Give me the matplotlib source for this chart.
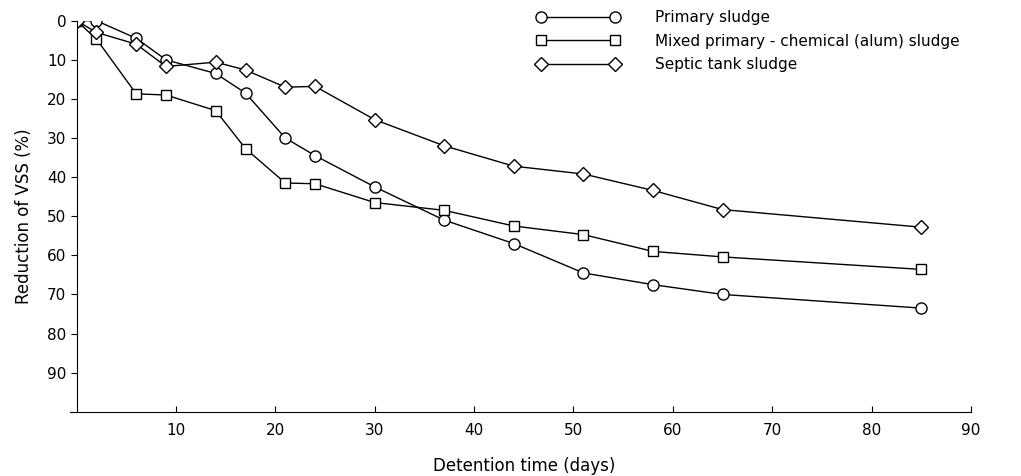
import matplotlib.pyplot as plt

# detention time (days)
days = [0, 2, 6, 9, 14, 17, 21, 24, 30, 37, 44, 51, 58, 65, 85]

# reduction of VSS (%)
primary = [0, 0, 4.5, 10, 13.5, 18.5, 30, 34.5, 42.5, 51, 57, 64.5, 67.5, 70, 73.5]
mixed = [0, 4.7, 18.7, 19, 23, 32.7, 41.5, 41.7, 46.5, 48.5, 52.5, 54.7, 59, 60.4, 63.6]
septic = [0, 3, 6, 11.7, 10.6, 12.6, 17, 16.8, 25.3, 32, 37.2, 39.2, 43.4, 48.3, 52.8]

labels = ["Primary sludge",
          "Mixed primary - chemical (alum) sludge",
          "Septic tank sludge"]

fig = plt.figure(figsize=(10.21, 4.76), dpi=100)
ax = fig.add_axes([0.075, 0.135, 0.876, 0.8215])

style = dict(color='black', lw=1.0, mfc='white', mec='black', mew=1.0)
ax.plot(days, primary, marker='o', ms=8, label=labels[0], **style)
ax.plot(days, mixed, marker='s', ms=7.5, label=labels[1], **style)
ax.plot(days, septic, marker='D', ms=7.5, label=labels[2], **style)

ax.set_xlim(0, 90)
ax.set_ylim(100, 0)
ax.set_xticks(range(10, 91, 10))
ax.set_yticks(range(0, 91, 10))

for s in ['top', 'right']:
    ax.spines[s].set_visible(False)
ax.spines['bottom'].set_bounds(-0.7, 90)
ax.tick_params(axis='x', direction='in', length=4, labelsize=11, pad=8)
ax.tick_params(axis='y', direction='out', length=4, labelsize=11)

ax.set_xlabel("Detention time (days)", fontsize=12, labelpad=14)
ax.set_ylabel("Reduction of VSS (%)", fontsize=12, labelpad=10)

fig.legend(loc='upper left', bbox_to_anchor=(0.519, 0.991), frameon=False,
           borderaxespad=0.0, numpoints=2, handlelength=5.5,
           handletextpad=2.3, labelspacing=0.55, fontsize=11)

plt.savefig("out.png", dpi=100)
